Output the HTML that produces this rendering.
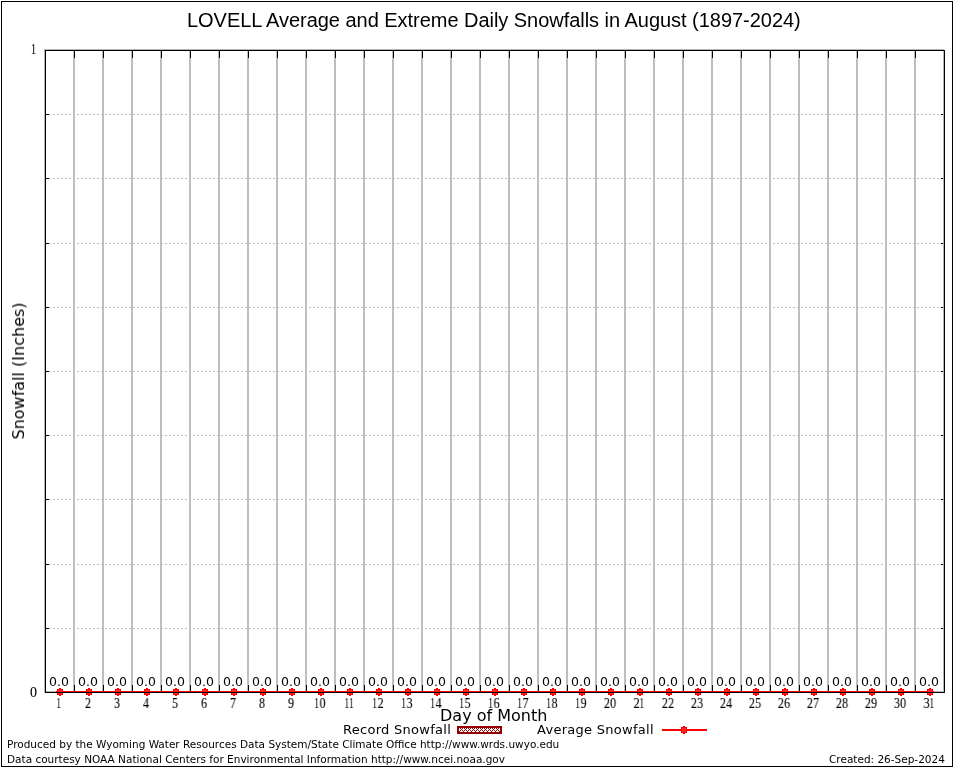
<!DOCTYPE html><html><head><meta charset="utf-8"><title>LOVELL Average and Extreme Daily Snowfalls in August</title><style>
*{margin:0;padding:0}
html,body{width:954px;height:768px;overflow:hidden;background:#fff}
body{position:relative}
.t{position:absolute;white-space:pre;line-height:1;color:#000;will-change:transform}
.title{font-family:"Liberation Sans",sans-serif;font-size:20px;letter-spacing:-0.035px}
.dj{font-family:"DejaVu Sans",sans-serif}
.sr{font-family:"Liberation Serif",serif}
.v{font-size:12.5px}
.xl{font-size:14px;transform-origin:50% 88%;-webkit-text-stroke:0.1px #000}
.o{display:inline-block;transform:scaleX(0.72);margin:0 -0.7px}
.k{margin-left:-2px}
.lg{font-size:13px;letter-spacing:0.28px}
.ft{font-size:10.5px}
</style></head><body>
<svg width="954" height="768" viewBox="0 0 954 768" style="position:absolute;left:0;top:0" shape-rendering="crispEdges"><defs><pattern id="pt" x="459" y="728" width="4" height="4" patternUnits="userSpaceOnUse"><rect width="4" height="4" fill="#fff"/><path d="M1 0h1v1h-1zM3 0h1v1h-1zM2 1h1v1h-1zM1 2h1v1h-1zM3 2h1v1h-1zM0 3h1v1h-1z" fill="#970000"/></pattern></defs><rect x="1.5" y="1.5" width="951" height="765" fill="none" stroke="#000" stroke-width="1"/><path d="M44 49h900v1h-900zM44 49h1v644h-1zM943 50h1v642h-1zM46 691h10v1h-10zM934 691h9v1h-9z" fill="#b4b4b4"/><line x1="45" y1="628.5" x2="944" y2="628.5" stroke="#bebebe" stroke-width="1" stroke-dasharray="2 2"/><line x1="45" y1="564.5" x2="944" y2="564.5" stroke="#bebebe" stroke-width="1" stroke-dasharray="2 2"/><line x1="45" y1="499.5" x2="944" y2="499.5" stroke="#bebebe" stroke-width="1" stroke-dasharray="2 2"/><line x1="45" y1="435.5" x2="944" y2="435.5" stroke="#bebebe" stroke-width="1" stroke-dasharray="2 2"/><line x1="45" y1="371.5" x2="944" y2="371.5" stroke="#bebebe" stroke-width="1" stroke-dasharray="2 2"/><line x1="45" y1="307.5" x2="944" y2="307.5" stroke="#bebebe" stroke-width="1" stroke-dasharray="2 2"/><line x1="45" y1="243.5" x2="944" y2="243.5" stroke="#bebebe" stroke-width="1" stroke-dasharray="2 2"/><line x1="45" y1="178.5" x2="944" y2="178.5" stroke="#bebebe" stroke-width="1" stroke-dasharray="2 2"/><line x1="45" y1="114.5" x2="944" y2="114.5" stroke="#bebebe" stroke-width="1" stroke-dasharray="2 2"/><rect x="73" y="50" width="2" height="642" fill="#bebebe"/><rect x="102" y="50" width="2" height="642" fill="#bebebe"/><rect x="131" y="50" width="2" height="642" fill="#bebebe"/><rect x="160" y="50" width="2" height="642" fill="#bebebe"/><rect x="189" y="50" width="2" height="642" fill="#bebebe"/><rect x="218" y="50" width="2" height="642" fill="#bebebe"/><rect x="247" y="50" width="2" height="642" fill="#bebebe"/><rect x="276" y="50" width="2" height="642" fill="#bebebe"/><rect x="305" y="50" width="2" height="642" fill="#bebebe"/><rect x="334" y="50" width="2" height="642" fill="#bebebe"/><rect x="363" y="50" width="2" height="642" fill="#bebebe"/><rect x="392" y="50" width="2" height="642" fill="#bebebe"/><rect x="421" y="50" width="2" height="642" fill="#bebebe"/><rect x="450" y="50" width="2" height="642" fill="#bebebe"/><rect x="479" y="50" width="2" height="642" fill="#bebebe"/><rect x="508" y="50" width="2" height="642" fill="#bebebe"/><rect x="537" y="50" width="2" height="642" fill="#bebebe"/><rect x="566" y="50" width="2" height="642" fill="#bebebe"/><rect x="595" y="50" width="2" height="642" fill="#bebebe"/><rect x="624" y="50" width="2" height="642" fill="#bebebe"/><rect x="653" y="50" width="2" height="642" fill="#bebebe"/><rect x="682" y="50" width="2" height="642" fill="#bebebe"/><rect x="711" y="50" width="2" height="642" fill="#bebebe"/><rect x="740" y="50" width="2" height="642" fill="#bebebe"/><rect x="769" y="50" width="2" height="642" fill="#bebebe"/><rect x="798" y="50" width="2" height="642" fill="#bebebe"/><rect x="827" y="50" width="2" height="642" fill="#bebebe"/><rect x="856" y="50" width="2" height="642" fill="#bebebe"/><rect x="885" y="50" width="2" height="642" fill="#bebebe"/><rect x="914" y="50" width="2" height="642" fill="#bebebe"/><rect x="74" y="50" width="1" height="8" fill="#000"/><rect x="74" y="685" width="1" height="8" fill="#000"/><rect x="103" y="50" width="1" height="8" fill="#000"/><rect x="103" y="685" width="1" height="8" fill="#000"/><rect x="132" y="50" width="1" height="8" fill="#000"/><rect x="132" y="685" width="1" height="8" fill="#000"/><rect x="161" y="50" width="1" height="8" fill="#000"/><rect x="161" y="685" width="1" height="8" fill="#000"/><rect x="190" y="50" width="1" height="8" fill="#000"/><rect x="190" y="685" width="1" height="8" fill="#000"/><rect x="219" y="50" width="1" height="8" fill="#000"/><rect x="219" y="685" width="1" height="8" fill="#000"/><rect x="248" y="50" width="1" height="8" fill="#000"/><rect x="248" y="685" width="1" height="8" fill="#000"/><rect x="277" y="50" width="1" height="8" fill="#000"/><rect x="277" y="685" width="1" height="8" fill="#000"/><rect x="306" y="50" width="1" height="8" fill="#000"/><rect x="306" y="685" width="1" height="8" fill="#000"/><rect x="335" y="50" width="1" height="8" fill="#000"/><rect x="335" y="685" width="1" height="8" fill="#000"/><rect x="364" y="50" width="1" height="8" fill="#000"/><rect x="364" y="685" width="1" height="8" fill="#000"/><rect x="393" y="50" width="1" height="8" fill="#000"/><rect x="393" y="685" width="1" height="8" fill="#000"/><rect x="422" y="50" width="1" height="8" fill="#000"/><rect x="422" y="685" width="1" height="8" fill="#000"/><rect x="451" y="50" width="1" height="8" fill="#000"/><rect x="451" y="685" width="1" height="8" fill="#000"/><rect x="480" y="50" width="1" height="8" fill="#000"/><rect x="480" y="685" width="1" height="8" fill="#000"/><rect x="509" y="50" width="1" height="8" fill="#000"/><rect x="509" y="685" width="1" height="8" fill="#000"/><rect x="538" y="50" width="1" height="8" fill="#000"/><rect x="538" y="685" width="1" height="8" fill="#000"/><rect x="567" y="50" width="1" height="8" fill="#000"/><rect x="567" y="685" width="1" height="8" fill="#000"/><rect x="596" y="50" width="1" height="8" fill="#000"/><rect x="596" y="685" width="1" height="8" fill="#000"/><rect x="625" y="50" width="1" height="8" fill="#000"/><rect x="625" y="685" width="1" height="8" fill="#000"/><rect x="654" y="50" width="1" height="8" fill="#000"/><rect x="654" y="685" width="1" height="8" fill="#000"/><rect x="683" y="50" width="1" height="8" fill="#000"/><rect x="683" y="685" width="1" height="8" fill="#000"/><rect x="712" y="50" width="1" height="8" fill="#000"/><rect x="712" y="685" width="1" height="8" fill="#000"/><rect x="741" y="50" width="1" height="8" fill="#000"/><rect x="741" y="685" width="1" height="8" fill="#000"/><rect x="770" y="50" width="1" height="8" fill="#000"/><rect x="770" y="685" width="1" height="8" fill="#000"/><rect x="799" y="50" width="1" height="8" fill="#000"/><rect x="799" y="685" width="1" height="8" fill="#000"/><rect x="828" y="50" width="1" height="8" fill="#000"/><rect x="828" y="685" width="1" height="8" fill="#000"/><rect x="857" y="50" width="1" height="8" fill="#000"/><rect x="857" y="685" width="1" height="8" fill="#000"/><rect x="886" y="50" width="1" height="8" fill="#000"/><rect x="886" y="685" width="1" height="8" fill="#000"/><rect x="915" y="50" width="1" height="8" fill="#000"/><rect x="915" y="685" width="1" height="8" fill="#000"/><rect x="45" y="628" width="4" height="1" fill="#000"/><rect x="941" y="628" width="2" height="1" fill="#000"/><rect x="45" y="564" width="4" height="1" fill="#000"/><rect x="941" y="564" width="2" height="1" fill="#000"/><rect x="45" y="499" width="4" height="1" fill="#000"/><rect x="941" y="499" width="2" height="1" fill="#000"/><rect x="45" y="435" width="4" height="1" fill="#000"/><rect x="941" y="435" width="2" height="1" fill="#000"/><rect x="45" y="371" width="4" height="1" fill="#000"/><rect x="941" y="371" width="2" height="1" fill="#000"/><rect x="45" y="307" width="4" height="1" fill="#000"/><rect x="941" y="307" width="2" height="1" fill="#000"/><rect x="45" y="243" width="4" height="1" fill="#000"/><rect x="941" y="243" width="2" height="1" fill="#000"/><rect x="45" y="178" width="4" height="1" fill="#000"/><rect x="941" y="178" width="2" height="1" fill="#000"/><rect x="45" y="114" width="4" height="1" fill="#000"/><rect x="941" y="114" width="2" height="1" fill="#000"/><rect x="56" y="691" width="878" height="2" fill="#ff0000"/><path d="M59 688h2v1h2v6h-2v1h-2v-1h-2v-6h2z" fill="#ff0000"/><rect x="58" y="690" width="4" height="4" fill="#ff2626"/><path d="M88 688h2v1h2v6h-2v1h-2v-1h-2v-6h2z" fill="#ff0000"/><rect x="87" y="690" width="4" height="4" fill="#ff2626"/><path d="M117 688h2v1h2v6h-2v1h-2v-1h-2v-6h2z" fill="#ff0000"/><rect x="116" y="690" width="4" height="4" fill="#ff2626"/><path d="M146 688h2v1h2v6h-2v1h-2v-1h-2v-6h2z" fill="#ff0000"/><rect x="145" y="690" width="4" height="4" fill="#ff2626"/><path d="M175 688h2v1h2v6h-2v1h-2v-1h-2v-6h2z" fill="#ff0000"/><rect x="174" y="690" width="4" height="4" fill="#ff2626"/><path d="M204 688h2v1h2v6h-2v1h-2v-1h-2v-6h2z" fill="#ff0000"/><rect x="203" y="690" width="4" height="4" fill="#ff2626"/><path d="M233 688h2v1h2v6h-2v1h-2v-1h-2v-6h2z" fill="#ff0000"/><rect x="232" y="690" width="4" height="4" fill="#ff2626"/><path d="M262 688h2v1h2v6h-2v1h-2v-1h-2v-6h2z" fill="#ff0000"/><rect x="261" y="690" width="4" height="4" fill="#ff2626"/><path d="M291 688h2v1h2v6h-2v1h-2v-1h-2v-6h2z" fill="#ff0000"/><rect x="290" y="690" width="4" height="4" fill="#ff2626"/><path d="M320 688h2v1h2v6h-2v1h-2v-1h-2v-6h2z" fill="#ff0000"/><rect x="319" y="690" width="4" height="4" fill="#ff2626"/><path d="M349 688h2v1h2v6h-2v1h-2v-1h-2v-6h2z" fill="#ff0000"/><rect x="348" y="690" width="4" height="4" fill="#ff2626"/><path d="M378 688h2v1h2v6h-2v1h-2v-1h-2v-6h2z" fill="#ff0000"/><rect x="377" y="690" width="4" height="4" fill="#ff2626"/><path d="M407 688h2v1h2v6h-2v1h-2v-1h-2v-6h2z" fill="#ff0000"/><rect x="406" y="690" width="4" height="4" fill="#ff2626"/><path d="M436 688h2v1h2v6h-2v1h-2v-1h-2v-6h2z" fill="#ff0000"/><rect x="435" y="690" width="4" height="4" fill="#ff2626"/><path d="M465 688h2v1h2v6h-2v1h-2v-1h-2v-6h2z" fill="#ff0000"/><rect x="464" y="690" width="4" height="4" fill="#ff2626"/><path d="M494 688h2v1h2v6h-2v1h-2v-1h-2v-6h2z" fill="#ff0000"/><rect x="493" y="690" width="4" height="4" fill="#ff2626"/><path d="M523 688h2v1h2v6h-2v1h-2v-1h-2v-6h2z" fill="#ff0000"/><rect x="522" y="690" width="4" height="4" fill="#ff2626"/><path d="M552 688h2v1h2v6h-2v1h-2v-1h-2v-6h2z" fill="#ff0000"/><rect x="551" y="690" width="4" height="4" fill="#ff2626"/><path d="M581 688h2v1h2v6h-2v1h-2v-1h-2v-6h2z" fill="#ff0000"/><rect x="580" y="690" width="4" height="4" fill="#ff2626"/><path d="M610 688h2v1h2v6h-2v1h-2v-1h-2v-6h2z" fill="#ff0000"/><rect x="609" y="690" width="4" height="4" fill="#ff2626"/><path d="M639 688h2v1h2v6h-2v1h-2v-1h-2v-6h2z" fill="#ff0000"/><rect x="638" y="690" width="4" height="4" fill="#ff2626"/><path d="M668 688h2v1h2v6h-2v1h-2v-1h-2v-6h2z" fill="#ff0000"/><rect x="667" y="690" width="4" height="4" fill="#ff2626"/><path d="M697 688h2v1h2v6h-2v1h-2v-1h-2v-6h2z" fill="#ff0000"/><rect x="696" y="690" width="4" height="4" fill="#ff2626"/><path d="M726 688h2v1h2v6h-2v1h-2v-1h-2v-6h2z" fill="#ff0000"/><rect x="725" y="690" width="4" height="4" fill="#ff2626"/><path d="M755 688h2v1h2v6h-2v1h-2v-1h-2v-6h2z" fill="#ff0000"/><rect x="754" y="690" width="4" height="4" fill="#ff2626"/><path d="M784 688h2v1h2v6h-2v1h-2v-1h-2v-6h2z" fill="#ff0000"/><rect x="783" y="690" width="4" height="4" fill="#ff2626"/><path d="M813 688h2v1h2v6h-2v1h-2v-1h-2v-6h2z" fill="#ff0000"/><rect x="812" y="690" width="4" height="4" fill="#ff2626"/><path d="M842 688h2v1h2v6h-2v1h-2v-1h-2v-6h2z" fill="#ff0000"/><rect x="841" y="690" width="4" height="4" fill="#ff2626"/><path d="M871 688h2v1h2v6h-2v1h-2v-1h-2v-6h2z" fill="#ff0000"/><rect x="870" y="690" width="4" height="4" fill="#ff2626"/><path d="M900 688h2v1h2v6h-2v1h-2v-1h-2v-6h2z" fill="#ff0000"/><rect x="899" y="690" width="4" height="4" fill="#ff2626"/><path d="M929 688h2v1h2v6h-2v1h-2v-1h-2v-6h2z" fill="#ff0000"/><rect x="928" y="690" width="4" height="4" fill="#ff2626"/><rect x="45.5" y="50.5" width="899" height="642" fill="none" stroke="#000" stroke-width="1"/><rect x="662" y="729" width="45" height="2" fill="#ff0000"/><path d="M683 726h2v1h2v6h-2v1h-2v-1h-2v-6h2z" fill="#ff0000"/><rect x="682" y="728" width="4" height="4" fill="#ff2626"/><rect x="457" y="726" width="45" height="8" fill="#970000"/><rect x="459" y="728" width="41" height="4" fill="url(#pt)"/></svg>
<div class="t title" style="left:187px;top:10px">LOVELL Average and Extreme Daily Snowfalls in August (1897-2024)</div>
<div class="t dj" style="left:19px;top:371px;font-size:16px;transform:translate(-50%,-50%) rotate(-90deg)">Snowfall (Inches)</div>
<div class="t sr xl" style="right:917px;top:43px"><span class="o">1</span></div>
<div class="t sr xl" style="right:917px;top:685.5px">0</div>
<div class="t sr xl" style="left:58.5px;top:697px;transform:translateX(-50%) scaleX(0.88)"><span class="o">1</span></div>
<div class="t sr xl" style="left:87.5px;top:697px;transform:translateX(-50%) scaleX(0.88)">2</div>
<div class="t sr xl" style="left:116.5px;top:697px;transform:translateX(-50%) scaleX(0.88)">3</div>
<div class="t sr xl" style="left:145.5px;top:697px;transform:translateX(-50%) scaleX(0.88)">4</div>
<div class="t sr xl" style="left:174.5px;top:697px;transform:translateX(-50%) scaleX(0.88)">5</div>
<div class="t sr xl" style="left:203.5px;top:697px;transform:translateX(-50%) scaleX(0.88)">6</div>
<div class="t sr xl" style="left:232.5px;top:697px;transform:translateX(-50%) scaleX(0.88)">7</div>
<div class="t sr xl" style="left:261.5px;top:697px;transform:translateX(-50%) scaleX(0.88)">8</div>
<div class="t sr xl" style="left:290.5px;top:697px;transform:translateX(-50%) scaleX(0.88)">9</div>
<div class="t sr xl" style="left:319.5px;top:697px;transform:translateX(-50%) scaleX(0.88)"><span class="o">1</span>0</div>
<div class="t sr xl" style="left:348.5px;top:697px;transform:translateX(-50%) scaleX(0.88)"><span class="o">1</span><span class="o k">1</span></div>
<div class="t sr xl" style="left:377.5px;top:697px;transform:translateX(-50%) scaleX(0.88)"><span class="o">1</span>2</div>
<div class="t sr xl" style="left:406.5px;top:697px;transform:translateX(-50%) scaleX(0.88)"><span class="o">1</span>3</div>
<div class="t sr xl" style="left:435.5px;top:697px;transform:translateX(-50%) scaleX(0.88)"><span class="o">1</span>4</div>
<div class="t sr xl" style="left:464.5px;top:697px;transform:translateX(-50%) scaleX(0.88)"><span class="o">1</span>5</div>
<div class="t sr xl" style="left:493.5px;top:697px;transform:translateX(-50%) scaleX(0.88)"><span class="o">1</span>6</div>
<div class="t sr xl" style="left:522.5px;top:697px;transform:translateX(-50%) scaleX(0.88)"><span class="o">1</span>7</div>
<div class="t sr xl" style="left:551.5px;top:697px;transform:translateX(-50%) scaleX(0.88)"><span class="o">1</span>8</div>
<div class="t sr xl" style="left:580.5px;top:697px;transform:translateX(-50%) scaleX(0.88)"><span class="o">1</span>9</div>
<div class="t sr xl" style="left:609.5px;top:697px;transform:translateX(-50%) scaleX(0.88)">20</div>
<div class="t sr xl" style="left:638.5px;top:697px;transform:translateX(-50%) scaleX(0.88)">2<span class="o">1</span></div>
<div class="t sr xl" style="left:667.5px;top:697px;transform:translateX(-50%) scaleX(0.88)">22</div>
<div class="t sr xl" style="left:696.5px;top:697px;transform:translateX(-50%) scaleX(0.88)">23</div>
<div class="t sr xl" style="left:725.5px;top:697px;transform:translateX(-50%) scaleX(0.88)">24</div>
<div class="t sr xl" style="left:754.5px;top:697px;transform:translateX(-50%) scaleX(0.88)">25</div>
<div class="t sr xl" style="left:783.5px;top:697px;transform:translateX(-50%) scaleX(0.88)">26</div>
<div class="t sr xl" style="left:812.5px;top:697px;transform:translateX(-50%) scaleX(0.88)">27</div>
<div class="t sr xl" style="left:841.5px;top:697px;transform:translateX(-50%) scaleX(0.88)">28</div>
<div class="t sr xl" style="left:870.5px;top:697px;transform:translateX(-50%) scaleX(0.88)">29</div>
<div class="t sr xl" style="left:899.5px;top:697px;transform:translateX(-50%) scaleX(0.88)">30</div>
<div class="t sr xl" style="left:928.5px;top:697px;transform:translateX(-50%) scaleX(0.88)">3<span class="o">1</span></div>
<div class="t dj v" style="left:58.6px;top:676px;transform:translateX(-50%)">0.0</div>
<div class="t dj v" style="left:87.6px;top:676px;transform:translateX(-50%)">0.0</div>
<div class="t dj v" style="left:116.6px;top:676px;transform:translateX(-50%)">0.0</div>
<div class="t dj v" style="left:145.6px;top:676px;transform:translateX(-50%)">0.0</div>
<div class="t dj v" style="left:174.6px;top:676px;transform:translateX(-50%)">0.0</div>
<div class="t dj v" style="left:203.6px;top:676px;transform:translateX(-50%)">0.0</div>
<div class="t dj v" style="left:232.6px;top:676px;transform:translateX(-50%)">0.0</div>
<div class="t dj v" style="left:261.6px;top:676px;transform:translateX(-50%)">0.0</div>
<div class="t dj v" style="left:290.6px;top:676px;transform:translateX(-50%)">0.0</div>
<div class="t dj v" style="left:319.6px;top:676px;transform:translateX(-50%)">0.0</div>
<div class="t dj v" style="left:348.6px;top:676px;transform:translateX(-50%)">0.0</div>
<div class="t dj v" style="left:377.6px;top:676px;transform:translateX(-50%)">0.0</div>
<div class="t dj v" style="left:406.6px;top:676px;transform:translateX(-50%)">0.0</div>
<div class="t dj v" style="left:435.6px;top:676px;transform:translateX(-50%)">0.0</div>
<div class="t dj v" style="left:464.6px;top:676px;transform:translateX(-50%)">0.0</div>
<div class="t dj v" style="left:493.6px;top:676px;transform:translateX(-50%)">0.0</div>
<div class="t dj v" style="left:522.6px;top:676px;transform:translateX(-50%)">0.0</div>
<div class="t dj v" style="left:551.6px;top:676px;transform:translateX(-50%)">0.0</div>
<div class="t dj v" style="left:580.6px;top:676px;transform:translateX(-50%)">0.0</div>
<div class="t dj v" style="left:609.6px;top:676px;transform:translateX(-50%)">0.0</div>
<div class="t dj v" style="left:638.6px;top:676px;transform:translateX(-50%)">0.0</div>
<div class="t dj v" style="left:667.6px;top:676px;transform:translateX(-50%)">0.0</div>
<div class="t dj v" style="left:696.6px;top:676px;transform:translateX(-50%)">0.0</div>
<div class="t dj v" style="left:725.6px;top:676px;transform:translateX(-50%)">0.0</div>
<div class="t dj v" style="left:754.6px;top:676px;transform:translateX(-50%)">0.0</div>
<div class="t dj v" style="left:783.6px;top:676px;transform:translateX(-50%)">0.0</div>
<div class="t dj v" style="left:812.6px;top:676px;transform:translateX(-50%)">0.0</div>
<div class="t dj v" style="left:841.6px;top:676px;transform:translateX(-50%)">0.0</div>
<div class="t dj v" style="left:870.6px;top:676px;transform:translateX(-50%)">0.0</div>
<div class="t dj v" style="left:899.6px;top:676px;transform:translateX(-50%)">0.0</div>
<div class="t dj v" style="left:928.6px;top:676px;transform:translateX(-50%)">0.0</div>
<div class="t dj" style="left:440px;top:708px;font-size:16px">Day of Month</div>
<div class="t dj lg" style="left:343px;top:723px">Record Snowfall</div>
<div class="t dj lg" style="left:537px;top:723px">Average Snowfall</div>
<div class="t dj ft" style="left:7px;top:739px">Produced by the Wyoming Water Resources Data System/State Climate Office http://www.wrds.uwyo.edu</div>
<div class="t dj ft" style="left:7px;top:754px">Data courtesy NOAA National Centers for Environmental Information http://www.ncei.noaa.gov</div>
<div class="t dj ft" style="left:829px;top:754px">Created: 26-Sep-2024</div>
</body></html>
